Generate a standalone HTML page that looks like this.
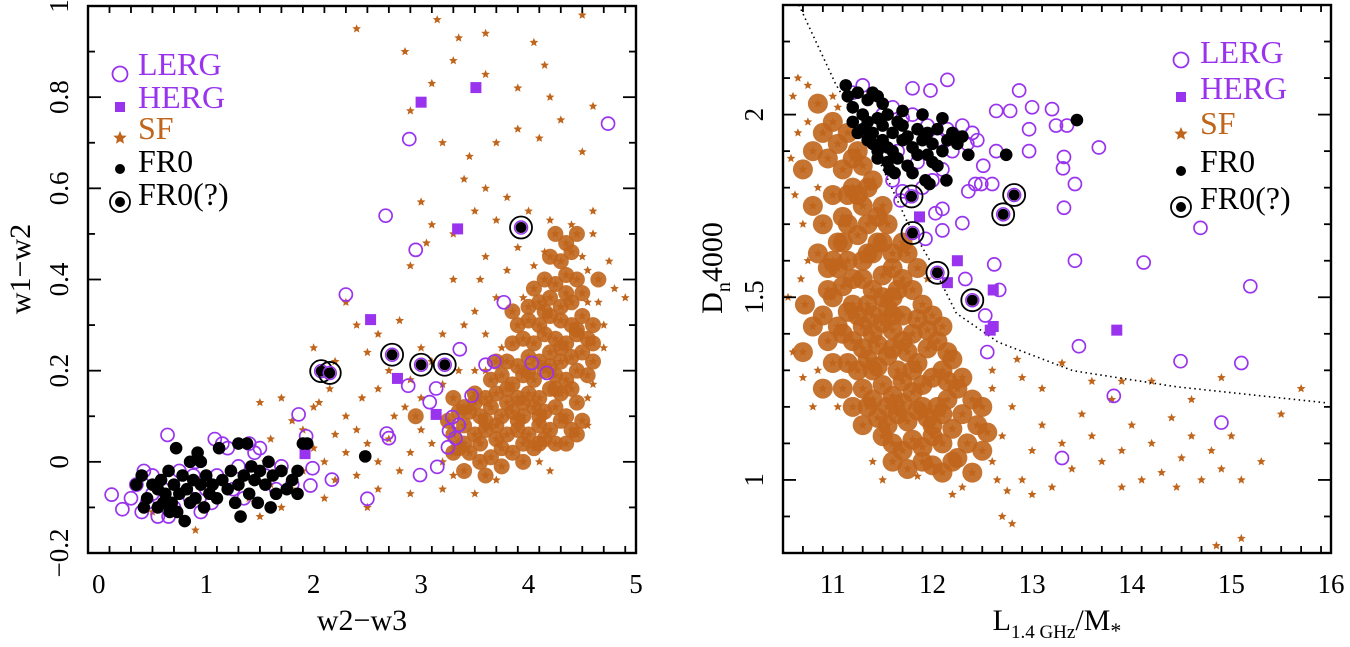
<!DOCTYPE html>
<html><head><meta charset="utf-8">
<style>
html,body{margin:0;padding:0;background:#fff;}
svg{display:block;font-family:"Liberation Serif",serif;}
</style></head>
<body>
<svg id="fig" width="1350" height="647" viewBox="0 0 1350 647" xmlns="http://www.w3.org/2000/svg">
<g id="left"></g>
<g id="right"></g>
</svg>
<script>
// ===== LEFT PANEL DATA (w2-w3 vs w1-w2) =====
const L_SF = [3.35,0.03,3.45,0.02,3.55,0.04,3.65,0.01,3.75,0.03,3.85,0.02,3.95,0.04,4.05,0.03,4.15,0.05,3.5,0.06,3.6,0.07,3.7,0.05,3.8,0.06,3.9,0.07,4.0,0.06,4.1,0.08,4.2,0.07,4.3,0.09,3.4,0.08,3.3,0.06,
3.45,0.11,3.55,0.1,3.65,0.12,3.75,0.1,3.85,0.11,3.95,0.1,4.05,0.12,4.15,0.11,4.25,0.12,4.35,0.1,4.45,0.13,3.6,0.14,3.7,0.15,3.8,0.13,3.9,0.14,4.0,0.15,4.1,0.14,4.2,0.16,4.3,0.15,4.4,0.16,
3.65,0.18,3.75,0.19,3.85,0.17,3.95,0.19,4.05,0.18,4.15,0.2,4.25,0.19,4.35,0.18,4.45,0.2,4.55,0.19,3.8,0.22,3.9,0.21,4.0,0.23,4.1,0.22,4.2,0.24,4.3,0.22,4.4,0.23,4.5,0.24,4.6,0.22,
3.85,0.26,3.95,0.27,4.05,0.26,4.15,0.28,4.25,0.27,4.35,0.26,4.45,0.28,4.55,0.27,3.9,0.3,4.0,0.31,4.1,0.3,4.2,0.32,4.3,0.31,4.4,0.3,4.5,0.32,4.6,0.3,
4.0,0.34,4.1,0.35,4.2,0.36,4.3,0.34,4.4,0.35,4.5,0.37,4.05,0.38,4.15,0.4,4.25,0.39,4.35,0.41,4.45,0.4,4.55,0.42,4.3,0.44,4.4,0.46,4.2,0.45,4.5,0.45,
3.7,0.08,3.9,0.09,4.1,0.1,4.0,0.2,4.2,0.21,4.3,0.25,4.15,0.33,4.35,0.37,4.25,0.16,4.45,0.29,3.95,0.13,3.8,0.16,4.1,0.04,3.6,0.09,
3.2,0.0,3.1,0.04,3.0,0.07,2.9,0.02,2.8,-0.02,2.7,0.05,2.6,0.0,2.5,0.04,2.4,0.07,2.3,0.02,2.2,0.06,2.1,0.0,2.0,0.03,2.2,-0.04,2.4,-0.03,2.6,-0.06,2.9,-0.07,3.2,-0.06,3.4,-0.02,3.5,-0.07,1.6,-0.05,1.7,-0.1,1.5,-0.12,1.4,-0.08,1.8,-0.06,1.9,-0.02,2.5,-0.1,2.1,-0.08,1.55,0.0,0.9,-0.15,0.5,-0.11,1.6,0.05,1.5,0.13,1.7,0.14,1.9,0.07,2.05,0.13,2.3,0.1,2.45,0.14,2.6,0.16,2.75,0.1,2.85,0.12,3.0,0.14,2.5,0.24,2.6,0.28,2.4,0.3,2.3,0.35,2.2,0.22,2.0,0.25,2.8,0.31,3.2,0.28,3.4,0.3,3.5,0.33,3.6,0.28,3.7,0.36,3.6,0.45,3.8,0.42,3.9,0.47,3.7,0.53,3.5,0.55,3.3,0.5,3.1,0.52,3.0,0.57,3.4,0.62,3.6,0.6,3.8,0.58,4.0,0.55,4.2,0.53,4.4,0.52,4.6,0.5,4.8,0.38,4.9,0.36,4.6,0.55,3.2,0.7,3.45,0.67,3.7,0.7,3.9,0.73,4.1,0.71,4.3,0.75,4.5,0.68,4.6,0.78,4.2,0.8,3.9,0.82,3.6,0.85,3.3,0.88,3.1,0.83,2.9,0.77,2.85,0.9,3.15,0.97,3.35,0.93,3.6,0.94,4.05,0.92,4.15,0.87,4.5,0.98,2.4,0.95,3.05,0.48,2.9,0.43,3.3,0.4,3.55,0.4,2.0,0.12,1.8,0.09,2.15,0.16,3.1,0.22,3.2,0.17,3.0,0.25,2.9,0.18,2.7,0.2,3.3,0.14,3.35,0.2,3.5,0.2,3.5,0.15,3.4,0.12,3.25,0.09,3.15,0.1,2.95,0.1,3.6,-0.03,3.7,-0.04,3.3,-0.03,4.2,-0.02,4.1,0.0,4.35,0.04,4.45,0.06,4.5,0.09,4.55,0.14,4.6,0.17,4.7,0.25,4.7,0.3,4.65,0.35,4.65,0.4,4.75,0.44,
3.55,0.0,3.75,-0.01,3.95,0.0,3.4,0.04,3.5,0.13,3.7,0.22,3.6,0.2,3.75,0.25,3.85,0.33,3.95,0.36,4.05,0.43,4.15,0.46,4.25,0.5,4.35,0.48,4.45,0.5,4.55,0.35,4.6,0.26,4.55,0.08,4.4,0.07,4.25,0.04,3.35,0.11,3.3,0.02];
const L_LERG = [4.74,0.742,2.89,0.708,2.67,0.54,2.95,0.465,2.30,0.367,3.77,0.35,3.36,0.247,3.6,0.213,3.68,0.22,4.03,0.217,4.17,0.195,2.88,0.167,3.14,0.161,3.47,0.145,3.08,0.131,3.29,0.098,3.35,0.081,3.26,0.068,3.32,0.052,3.25,0.032,2.68,0.062,2.7,0.052,3.15,-0.011,2.99,-0.029,2.5,-0.081,2.17,-0.039,1.99,-0.014,1.97,-0.052,1.86,0.104,1.93,0.056,0.64,0.059,1.08,0.05,0.12,-0.072,0.22,-0.104,
0.35,-0.05,0.45,-0.09,0.5,-0.03,0.55,-0.12,0.6,-0.06,0.7,-0.1,0.75,-0.02,0.85,-0.08,0.9,0.0,1.0,-0.06,1.1,-0.03,1.2,0.03,1.3,-0.01,1.4,0.04,1.45,0.02,1.55,-0.03,1.65,-0.06,1.7,-0.01,1.8,-0.05,0.3,-0.08,0.4,-0.11,0.65,-0.12,0.95,-0.11,1.25,-0.06,1.35,-0.08,0.5,-0.07,0.8,-0.05,1.15,0.04,1.5,0.03,0.42,-0.02,0.88,-0.03,1.05,-0.09];
const L_HERG = [3.0,0.789,3.51,0.821,3.34,0.511,2.53,0.312,2.78,0.183,3.14,0.104,1.92,0.018];
const L_FRO = [0.35,-0.05,0.4,-0.03,0.45,-0.08,0.5,-0.05,0.55,-0.1,0.58,-0.04,0.62,-0.07,0.65,-0.02,0.68,-0.09,0.7,-0.05,0.73,-0.11,0.75,-0.07,0.78,-0.03,0.8,-0.13,0.82,-0.06,0.85,-0.09,0.88,-0.04,0.9,-0.08,0.92,0.02,0.95,-0.05,0.98,-0.1,1.0,-0.03,1.03,-0.07,1.06,-0.05,1.1,-0.08,1.12,0.03,1.15,-0.04,1.2,-0.06,1.23,-0.02,1.27,-0.09,1.3,-0.05,1.32,-0.12,1.35,-0.03,1.38,0.04,1.4,-0.07,1.42,-0.01,1.45,-0.04,1.48,-0.09,1.5,-0.02,1.55,-0.05,1.58,0.0,1.62,-0.03,1.65,-0.07,1.7,-0.02,1.75,-0.06,1.8,-0.04,1.85,-0.07,1.9,0.04,1.94,0.04,2.48,0.012,0.55,-0.06,0.6,-0.09,0.72,0.03,0.85,0.0,0.95,0.0,1.3,0.04,1.6,-0.1,1.85,-0.02,0.42,-0.1,0.66,-0.11];
const L_FROQ = [2.07,0.199,2.15,0.195,2.73,0.235,3.0,0.213,3.22,0.213,3.93,0.514];
const L_XTICKS = ["0","1","2","3","4","5"];
const L_YTICKS = ["−0.2","0","0.2","0.4","0.6","0.8","1"];

// ===== RIGHT PANEL DATA (L1.4GHz/M* vs Dn4000) =====
const R_SF = [10.65,1.95,10.7,1.85,10.75,1.98,10.8,1.9,10.85,1.8,10.9,1.95,10.95,1.88,11.0,1.98,11.05,1.92,11.1,1.85,11.15,1.95,11.2,1.88,10.8,1.75,10.9,1.7,11.0,1.78,11.1,1.72,11.2,1.8,11.3,1.86,11.3,1.75,11.4,1.82,11.45,1.72,10.85,1.62,10.95,1.58,11.05,1.65,11.15,1.6,11.25,1.67,11.35,1.62,11.45,1.65,11.55,1.7,11.6,1.62,10.75,1.6,10.7,1.7,11.0,1.5,11.1,1.53,11.2,1.48,11.3,1.55,11.4,1.52,11.5,1.56,11.6,1.5,11.7,1.55,11.75,1.62,10.9,1.45,10.6,2.05,10.62,1.78,10.68,1.55,10.72,1.48,10.55,1.5,10.6,1.35,10.7,1.35,10.8,1.42,10.58,1.88,10.65,2.1,10.75,2.08,10.85,2.03,11.0,2.05,11.05,2.02,10.95,1.52,11.05,1.42,11.25,1.78,11.35,1.7,11.4,1.62,11.15,1.7,11.05,1.58,
11.1,1.4,11.2,1.38,11.3,1.42,11.4,1.4,11.5,1.43,11.6,1.41,11.7,1.45,11.8,1.4,11.9,1.48,11.15,1.32,11.25,1.3,11.35,1.33,11.45,1.31,11.55,1.34,11.65,1.3,11.75,1.35,11.85,1.32,11.95,1.36,12.05,1.38,11.3,1.25,11.4,1.22,11.5,1.26,11.6,1.23,11.7,1.27,11.8,1.24,11.9,1.26,12.0,1.28,12.1,1.3,12.2,1.33,11.45,1.17,11.55,1.15,11.65,1.18,11.75,1.16,11.85,1.19,11.95,1.17,12.05,1.2,12.15,1.22,12.25,1.25,11.6,1.1,11.7,1.08,11.8,1.11,11.9,1.09,12.0,1.12,12.1,1.1,12.2,1.14,12.3,1.18,11.75,1.03,11.85,1.01,12.0,1.04,12.1,1.02,12.25,1.06,12.35,1.1,11.25,1.45,11.35,1.48,11.55,1.47,11.65,1.52,11.8,1.52,11.85,1.58,11.95,1.55,12.0,1.45,12.1,1.42,11.2,1.2,11.1,1.25,11.0,1.32,10.9,1.25,10.8,1.2,10.7,1.28,11.3,1.15,11.4,1.05,11.5,1.0,11.3,1.36,11.45,1.37,11.6,1.36,11.7,1.21,11.55,1.2,11.85,1.44,11.95,1.41,12.15,1.35,12.3,1.28,12.4,1.22,12.45,1.15,12.5,1.08,12.4,1.02,12.3,0.98,12.2,0.96,12.6,1.05,
11.0,1.6,11.1,1.65,11.2,1.55,11.3,1.6,11.4,1.45,11.5,1.5,11.6,1.45,11.7,1.38,11.8,1.3,11.9,1.2,12.0,1.15,12.1,1.18,11.25,1.9,11.15,1.78,11.35,1.8,11.5,1.75,11.5,1.65,11.6,1.58,11.7,1.65,11.4,1.3,11.35,1.2,11.5,1.12,11.6,1.05,11.9,1.05,12.2,1.05,12.15,1.27,11.05,1.2,10.95,1.38,10.85,1.3,11.15,1.46,
12.7,1.12,12.8,1.2,12.9,1.0,13.0,1.08,13.1,1.15,13.2,0.98,13.3,1.1,13.4,1.03,13.5,1.18,13.6,1.12,13.7,1.05,13.8,1.22,13.9,1.08,14.0,1.15,14.1,1.0,14.2,1.1,14.3,1.02,14.4,1.17,14.5,1.06,14.6,1.12,14.7,1.0,14.8,1.08,14.9,1.03,15.0,1.12,15.1,1.0,15.3,1.05,15.5,1.18,15.7,1.25,13.3,1.32,13.6,1.27,14.2,1.27,14.6,1.22,14.9,1.28,12.9,1.28,12.6,1.25,12.7,0.9,12.8,0.88,14.85,0.82,15.1,0.84,12.75,0.97,13.0,0.96,13.9,0.98,14.45,0.98,12.6,1.3,12.85,1.33,13.1,1.25,13.9,1.27,12.5,1.2,12.55,1.13,12.65,1.0];
const R_LERG = [12.15,2.095,11.8,2.072,11.98,2.066,12.87,2.066,13.0,2.02,13.2,2.015,12.78,2.01,12.64,2.01,13.24,1.97,13.35,1.97,12.97,1.96,13.67,1.91,12.64,1.9,12.97,1.9,13.32,1.884,13.31,1.853,12.51,1.86,13.43,1.81,13.32,1.745,14.69,1.69,13.43,1.6,14.12,1.595,15.19,1.53,12.62,1.59,12.33,1.55,12.67,1.52,12.53,1.45,12.55,1.35,13.47,1.366,14.49,1.325,15.1,1.32,13.82,1.23,14.9,1.157,13.3,1.06,12.3,1.703,12.1,1.683,12.03,1.73,12.1,1.742,11.93,1.66,12.36,1.79,12.49,1.81,12.6,1.81,12.43,1.81,11.68,1.765,
11.2,2.06,11.3,2.08,11.5,2.0,11.6,2.02,11.7,1.99,11.8,2.0,11.95,1.97,12.05,1.93,12.15,1.96,12.2,1.9,12.3,1.97,12.35,1.92,12.4,1.95,12.45,1.93,11.65,1.9,11.85,1.87,11.9,1.8,12.0,1.82,12.1,1.85,11.6,1.82,11.7,1.79];
const R_HERG = [11.87,1.72,12.25,1.6,12.15,1.54,12.61,1.52,12.61,1.42,12.58,1.41,13.85,1.41];
const R_FRO = [11.13,2.08,13.45,1.985,12.74,1.89,12.36,1.89,11.97,1.81,12.14,1.82,11.93,1.82,11.45,1.88,11.57,1.85,11.15,2.05,11.2,2.02,11.25,2.06,11.3,2.0,11.35,2.04,11.4,2.06,11.45,2.05,11.5,2.03,11.3,1.96,11.35,1.98,11.4,1.95,11.45,1.99,11.5,1.97,11.55,2.0,11.6,1.95,11.65,1.98,11.7,1.93,11.4,1.92,11.45,1.9,11.5,1.93,11.55,1.91,11.6,1.9,11.7,1.97,11.75,1.94,11.8,1.91,11.85,1.96,11.9,1.93,11.95,1.95,12.0,1.92,12.05,1.96,12.1,1.9,12.15,1.93,12.2,1.95,12.1,1.99,12.25,1.92,12.3,1.94,11.2,1.98,11.25,1.95,11.35,1.93,11.55,1.87,11.65,1.88,11.75,1.86,11.85,1.89,11.62,1.84,11.8,1.84,12.0,1.87,12.05,1.86,11.9,2.0,11.7,2.01,11.95,1.89];
const R_FROQ = [11.79,1.776,12.82,1.78,12.71,1.727,11.8,1.676,12.05,1.567,12.4,1.492];
const R_CURVE_X = [10.66,11.03,11.41,11.74,11.99,12.24,12.66,13.41,14.45,15.95];
const R_CURVE_Y = [2.30,2.083,1.907,1.711,1.593,1.456,1.377,1.299,1.255,1.211];
const R_XTICKS = ["11","12","13","14","15","16"];
const R_YTICKS = ["1","1.5","2"];

const NS="http://www.w3.org/2000/svg";
const PURPLE="#9933ee", ORANGE="#c0651c";
function mk(tag,attrs,parent){const e=document.createElementNS(NS,tag);for(const k in attrs)e.setAttribute(k,attrs[k]);parent.appendChild(e);return e;}
function starPts(cx,cy,r){let p=[];for(let i=0;i<10;i++){const a=-Math.PI/2+i*Math.PI/5;const rr=i%2?r*0.45:r;p.push((cx+rr*Math.cos(a)).toFixed(1)+","+(cy+rr*Math.sin(a)).toFixed(1));}return p.join(" ");}

function drawPanel(g,ax,d){
  const X=v=>ax.x0+(v-ax.xmin)/(ax.xmax-ax.xmin)*(ax.x1-ax.x0);
  const Y=v=>ax.y1-(v-ax.ymin)/(ax.ymax-ax.ymin)*(ax.y1-ax.y0);
  const clip="clip-"+g.id;
  const cp=mk("clipPath",{id:clip},g);mk("rect",{x:ax.x0,y:ax.y0,width:ax.x1-ax.x0,height:ax.y1-ax.y0},cp);
  const pg=mk("g",{"clip-path":"url(#"+clip+")"},g);
  // SF density shading (only where points are crowded, from data)
  const px=[],py=[];
  for(let i=0;i<d.sf.length;i+=2){px.push(X(d.sf[i]));py.push(Y(d.sf[i+1]));}
  const gd=mk("g",{fill:ORANGE,"fill-opacity":0.9},pg);
  
  
  for(let i=0;i<px.length;i++){let n=0;for(let j=0;j<px.length;j++){if(i!=j&&Math.hypot(px[i]-px[j],py[i]-py[j])<ax.nr)n++;}
    if(n>=5)mk("circle",{cx:px[i],cy:py[i],r:ax.hr},gd);}
  const gs=mk("g",{},pg);
  
  
  for(let i=0;i<px.length;i++){const s=mk("polygon",{points:starPts(px[i],py[i],4.6),fill:ORANGE},gs);
    
    }
  if(d.cx){let p=d.cx.map((v,i)=>X(v).toFixed(1)+","+Y(d.cy[i]).toFixed(1)).join(" ");
    const c=mk("polyline",{points:p,fill:"none",stroke:"#000","stroke-width":1.6,"stroke-dasharray":"1.5 3.5"},pg);
    
    }
  const gl=mk("g",{},pg);
  
  
  for(let i=0;i<d.lerg.length;i+=2){const c=mk("circle",{cx:X(d.lerg[i]),cy:Y(d.lerg[i+1]),r:6.5,fill:"none",stroke:PURPLE,"stroke-width":1.7},gl);
    
    }
  const gh=mk("g",{},pg);
  
  
  for(let i=0;i<d.herg.length;i+=2){const c=mk("rect",{x:X(d.herg[i])-5.5,y:Y(d.herg[i+1])-5.5,width:11,height:11,fill:PURPLE},gh);
    
    }
  const gf=mk("g",{},pg);
  
  
  for(let i=0;i<d.fro.length;i+=2){const c=mk("circle",{cx:X(d.fro[i]),cy:Y(d.fro[i+1]),r:6.3,fill:"#000"},gf);
    
    }
  const gq=mk("g",{},pg);
  
  
  for(let i=0;i<d.froq.length;i+=2){const cx=X(d.froq[i]),cy=Y(d.froq[i+1]);
    mk("circle",{cx,cy,r:6.5,fill:"none",stroke:PURPLE,"stroke-width":1.5},gq);
    const c=mk("circle",{cx,cy,r:5.5,fill:"#000"},gq);
    
    
    mk("circle",{cx,cy,r:11,fill:"none",stroke:"#000","stroke-width":1.8},gq);}
  // ticks
  const gt=mk("g",{stroke:"#000","stroke-width":1.8},g);
  
  
  for(let v=ax.xmin;v<=ax.xmax+1e-6;v+=ax.xminor){const vv=Math.round(v*1000)/1000;const maj=Math.abs(vv/ax.xmajor-Math.round(vv/ax.xmajor))<1e-6;const L=maj?13:7;const x=X(vv);
    if(Math.abs(vv-ax.xmin)<1e-6&&!maj)continue;
    mk("line",{x1:x,y1:ax.y1,x2:x,y2:ax.y1-L},gt);mk("line",{x1:x,y1:ax.y0,x2:x,y2:ax.y0+L},gt);}
  for(let v=ax.yfirst;v<=ax.ymax+1e-6;v+=ax.yminor){const vv=Math.round(v*1000)/1000;const maj=Math.abs(vv/ax.ymajor-Math.round(vv/ax.ymajor))<1e-6;const L=maj?13:7;const y=Y(vv);
    mk("line",{x1:ax.x0,y1:y,x2:ax.x0+L,y2:y},gt);mk("line",{x1:ax.x1,y1:y,x2:ax.x1-L,y2:y},gt);}
  const fr=mk("rect",{x:ax.x0,y:ax.y0,width:ax.x1-ax.x0,height:ax.y1-ax.y0,fill:"none",stroke:"#000","stroke-width":2.4},g);
  
  
  d.xt.forEach(t=>{const e=mk("text",{x:X(parseFloat(t)),y:ax.y1+40,"text-anchor":"middle","font-size":27},g);e.textContent=t;
    
    });
  d.yt.forEach(t=>{const v=parseFloat(t.replace("−","-"));const y=Y(v);
    const e=mk("text",{x:0,y:0,"text-anchor":"middle","font-size":27},g);
    e.setAttribute("transform","translate("+(ax.x0-20)+","+y+") rotate(-90)");
    e.textContent=t;
    
    });
  // legend
  const lg=mk("g",{},g);
  
  
  const items=[["LERG",PURPLE,"lerg"],["HERG",PURPLE,"herg"],["SF",ORANGE,"sf"],["FR0","#000","fro"],["FR0(?)","#000","froq"]];
  items.forEach((it,i)=>{const ty=ax.legY[i],sy=ax.legSY[i],sx=ax.legSX;
    const e=mk("text",{x:ax.legTX,y:ty+11,"font-size":ax.legFS,fill:it[1]},lg);e.textContent=it[0];
    
    
    if(it[2]=="lerg")mk("circle",{cx:sx,cy:sy,r:7.5,fill:"none",stroke:PURPLE,"stroke-width":1.8},lg);
    if(it[2]=="herg")mk("rect",{x:sx-5,y:sy-5,width:10,height:10,fill:PURPLE},lg);
    if(it[2]=="sf")mk("polygon",{points:starPts(sx,sy,7),fill:ORANGE},lg);
    if(it[2]=="fro")mk("circle",{cx:sx,cy:sy,r:5,fill:"#000"},lg);
    if(it[2]=="froq"){mk("circle",{cx:sx,cy:sy,r:5,fill:"#000"},lg);mk("circle",{cx:sx,cy:sy,r:10,fill:"none",stroke:"#000","stroke-width":1.8},lg);}
  });
}

const left=document.getElementById("left"), right=document.getElementById("right");
drawPanel(left,{x0:88,x1:636,y0:6,y1:553,xmin:-0.1,xmax:5,ymin:-0.2,ymax:1,xminor:0.2,xmajor:1,yfirst:-0.2,yminor:0.1,ymajor:0.2,
  nr:22,hr:8,legTX:138,legSX:120,legY:[64,97,128,161,194],legSY:[74,107,138,169,202],legFS:32},
  {sf:L_SF,lerg:L_LERG,herg:L_HERG,fro:L_FRO,froq:L_FROQ,xt:L_XTICKS,yt:L_YTICKS});
drawPanel(right,{x0:783,x1:1331,y0:5,y1:553,xmin:10.5,xmax:16,ymin:0.8,ymax:2.3,xminor:0.2,xmajor:1,yfirst:0.8,yminor:0.1,ymajor:0.5,
  nr:28,hr:10,legTX:1200,legSX:1181,legY:[52,88,123,161,198],legSY:[60,97,134,171,207],legFS:32},
  {sf:R_SF,lerg:R_LERG,herg:R_HERG,fro:R_FRO,froq:R_FROQ,cx:R_CURVE_X,cy:R_CURVE_Y,xt:R_XTICKS,yt:R_YTICKS});

// axis titles
const svg=document.getElementById("fig");
let t=mk("text",{x:362,y:630,"text-anchor":"middle","font-size":30},svg);t.textContent="w2−w3";


t=mk("text",{x:0,y:0,"text-anchor":"middle","font-size":30,transform:"translate(30,269) rotate(-90)"},svg);t.textContent="w1−w2";


t=mk("text",{x:0,y:0,"text-anchor":"middle","font-size":30,transform:"translate(722,268) rotate(-90)"},svg);


t.innerHTML='D<tspan font-size="20" dy="8">n</tspan><tspan dy="-8">4000</tspan>';
t=mk("text",{x:1057,y:630,"text-anchor":"middle","font-size":30},svg);


t.innerHTML='L<tspan font-size="19" dy="8">1.4 GHz</tspan><tspan dy="-8">/M</tspan><tspan font-size="22" dy="8">*</tspan>';
</script>
</body></html>
